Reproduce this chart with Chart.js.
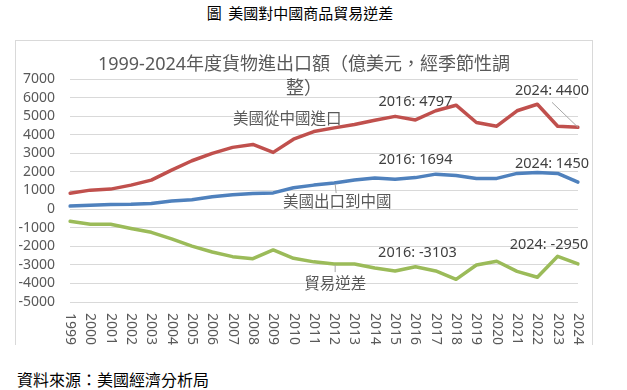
<!DOCTYPE html>
<html>
<head>
<meta charset="utf-8">
<script src="https://cdn.jsdelivr.net/npm/chart.js@4/dist/chart.umd.min.js"></script>
<style>
    html, body { margin: 0; padding: 0; background: #fff; }
    body { width: 627px; height: 390px; position: relative; overflow: hidden;
           font-family: "Noto Sans", "Noto Sans CJK TC", sans-serif; }
    .caption { position: absolute; left: 0; width: 600px; top: 2px; text-align: center;
               font: 15px "Noto Sans CJK TC"; color: #000; white-space: pre; }
    .box { position: absolute; left: 15px; top: 40px; width: 578px; height: 305px;
           box-sizing: border-box; border: 1px solid #d9d9d9; border-bottom: none; }
    .box canvas { position: absolute; left: 0; top: 0; }
    .chart-title { position: absolute; left: 0; right: 0; top: 10px; text-align: center;
                   font: 18px/24px "Noto Sans", "Noto Sans CJK TC"; color: #595959; }
    .source { position: absolute; left: 17px; top: 367px; font: 16px "Noto Sans CJK TC"; color: #000; }
</style>
</head>
<body>
<div class="caption">圖  美國對中國商品貿易逆差</div>
<div class="box">
    <canvas id="tradeChart" width="576" height="304"></canvas>
    <div class="chart-title">1999-2024年度貨物進出口額（億美元，經季節性調<br>整）</div>
</div>
<div class="source">資料來源：美國經濟分析局</div>

<script>
// ------------------------------------------------------------------ data
const years = ['1999', '2000', '2001', '2002', '2003', '2004', '2005', '2006', '2007',
    '2008', '2009', '2010', '2011', '2012', '2013', '2014', '2015', '2016', '2017',
    '2018', '2019', '2020', '2021', '2022', '2023', '2024'];

const imports = [850, 1020, 1075, 1290, 1560, 2100, 2600, 3000, 3320,
    3480, 3050, 3760, 4170, 4370, 4550, 4780, 4990, 4797, 5290,
    5590, 4660, 4460, 5290, 5640, 4460, 4400];

const exports = [160, 200, 250, 255, 300, 430, 500, 660, 770,
    840, 870, 1150, 1290, 1400, 1560, 1670, 1610, 1694, 1880,
    1810, 1650, 1650, 1920, 1970, 1920, 1450];

const balance = [-660, -820, -820, -1040, -1250, -1600, -1990, -2310, -2560,
    -2670, -2200, -2650, -2840, -2960, -2960, -3170, -3330, -3103, -3330,
    -3780, -3010, -2810, -3350, -3670, -2540, -2950];

const seriesNames = ['美國從中國進口', '美國出口到中國', '貿易逆差'];
const calloutYears = ['2016', '2024'];
const yTicks = { min: -5000, max: 7000, step: 1000 };

// ------------------------------------------------------------------ styles
const COLORS = ['#c0504d', '#4f81bd', '#9bbb59'];
const NUM_FONT = '"Noto Sans", "Noto Sans CJK TC", sans-serif';

// label offsets relative to the anchored data point: [index in years, dx, dy]
const nameSpots = [
    { at: 10, dx: 14, dy: -33, leader: null },
    { at: 13, dx: 3, dy: 20, leader: [1, 1, 2, 10] },
    { at: 13, dx: 1, dy: 20, leader: [1, 1, 1, 8] }
];
const calloutSpots = {
    '2016': [[0, -18], [0, -18], [2, -14]],
    '2024': [[-26, -36], [-26, -18], [-29, -19]]
};

// ------------------------------------------------------------------ annotations
const annotations = {
    id: 'annotations',
    afterDraw(chart) {
        const { ctx, chartArea } = chart;
        const xs = chart.scales.x;
        const metaPt = (ds, i) => chart.getDatasetMeta(ds).data[i];

        ctx.save();

        // x tick labels, rotated clockwise
        ctx.fillStyle = '#595959';
        ctx.font = '14px ' + NUM_FONT;
        ctx.textAlign = 'left';
        ctx.textBaseline = 'middle';
        years.forEach((y, i) => {
            const px = xs.getPixelForValue(i);
            ctx.save();
            ctx.translate(px, chartArea.bottom + 11);
            ctx.rotate(Math.PI / 2);
            ctx.fillText(y, 0, 0);
            ctx.restore();
        });

        ctx.textAlign = 'center';

        // series names
        ctx.font = '15.5px ' + NUM_FONT;
        ctx.fillStyle = '#595959';
        nameSpots.forEach((s, ds) => {
            const p = metaPt(ds, s.at);
            ctx.fillText(seriesNames[ds], p.x + s.dx, p.y + s.dy);
            if (s.leader) {
                ctx.strokeStyle = '#a6a6a6';
                ctx.lineWidth = 1;
                ctx.beginPath();
                ctx.moveTo(p.x + s.leader[0], p.y + s.leader[1]);
                ctx.lineTo(p.x + s.leader[2], p.y + s.leader[3]);
                ctx.stroke();
            }
        });

        // value call-outs
        ctx.font = '14.5px ' + NUM_FONT;
        ctx.fillStyle = '#404040';
        calloutYears.forEach(yr => {
            const i = years.indexOf(yr);
            chart.data.datasets.forEach((d, ds) => {
                const p = metaPt(ds, i);
                const [dx, dy] = calloutSpots[yr][ds];
                ctx.fillText(`${yr}: ${d.data[i]}`, p.x + dx, p.y + dy);
            });
        });

        // leader for 2024 imports
        const last = metaPt(0, years.length - 1);
        ctx.strokeStyle = '#a6a6a6';
        ctx.lineWidth = 1;
        ctx.beginPath();
        ctx.moveTo(last.x - 26, last.y - 25);
        ctx.lineTo(last.x, last.y);
        ctx.stroke();

        ctx.restore();
    }
};

// ------------------------------------------------------------------ chart
const line = (data, color) => ({
    data,
    borderColor: color,
    borderWidth: 3.5,
    pointRadius: 0,
    tension: 0,
    borderCapStyle: 'round',
    borderJoinStyle: 'round'
});

new Chart(document.getElementById('tradeChart'), {
    type: 'line',
    data: {
        labels: years,
        datasets: [line(imports, COLORS[0]), line(exports, COLORS[1]), line(balance, COLORS[2])]
    },
    options: {
        responsive: false,
        animation: false,
        devicePixelRatio: 1,
        layout: { padding: { top: 38, right: 14, left: 0, bottom: 0 } },
        plugins: { legend: { display: false }, title: { display: false }, tooltip: { enabled: false } },
        scales: {
            x: {
                offset: false,
                grid: { display: false },
                border: { display: false },
                ticks: { display: false },
                afterFit: s => { s.height = 43; }
            },
            y: {
                min: yTicks.min,
                max: yTicks.max,
                grid: { color: '#d9d9d9', lineWidth: 1, drawTicks: false },
                border: { display: false },
                ticks: {
                    stepSize: yTicks.step,
                    autoSkip: false,
                    padding: 15,
                    color: '#595959',
                    font: { family: NUM_FONT, size: 14 },
                    callback: v => String(v)
                },
                afterFit: s => { s.width = 54; }
            }
        }
    },
    plugins: [annotations]
});
</script>
</body>
</html>
